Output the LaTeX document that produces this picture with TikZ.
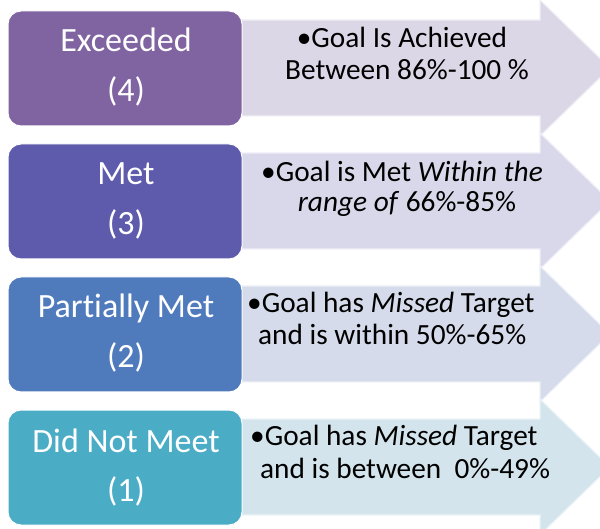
\documentclass[tikz,border=0pt]{standalone}
\usepackage{fontspec}
\setmainfont[Ligatures={NoCommon}]{Carlito}
\definecolor{boxA}{HTML}{8064A2}
\definecolor{boxB}{HTML}{5E5BAD}
\definecolor{boxC}{HTML}{4F7BBD}
\definecolor{boxD}{HTML}{4BACC6}
\definecolor{arrA}{HTML}{DCD7E7}
\definecolor{arrB}{HTML}{D9D8EA}
\definecolor{arrC}{HTML}{D5DBEA}
\definecolor{arrD}{HTML}{D3E4EC}
\begin{document}
\begin{tikzpicture}[x=1pt,y=-1pt,
  levelbox/.style={draw=white,line width=1pt,rounded corners=13pt,minimum width=234pt,minimum height=115pt,inner sep=0pt},
  arrowshape/.style={line width=1.2pt},
  boxtext/.style={text=white,font=\fontsize{34}{40}\selectfont,anchor=base,inner sep=0pt},
  arrtext/.style={text=black,font=\fontsize{29.3}{34}\selectfont,anchor=base,inner sep=0pt}]
\useasboundingbox (0,0) rectangle (600,529);
\clip (0,0) rectangle (600,529);
% arrows
\draw[arrowshape,fill=arrA,draw=arrA!40!white] (236,20) -- (540,20) -- (540,0) -- (610,68) -- (540,136) -- (540,116) -- (236,116) -- cycle;
\draw[arrowshape,fill=arrB,draw=arrB!40!white] (236,153) -- (540,153) -- (540,133) -- (610,201) -- (540,269) -- (540,249) -- (236,249) -- cycle;
\draw[arrowshape,fill=arrC,draw=arrC!40!white] (236,286) -- (540,286) -- (540,266) -- (610,334) -- (540,402) -- (540,382) -- (236,382) -- cycle;
\draw[arrowshape,fill=arrD,draw=arrD!40!white] (236,419) -- (540,419) -- (540,399) -- (610,467) -- (540,535) -- (540,515) -- (236,515) -- cycle;
% boxes
\node[levelbox,fill=boxA] (b4) at (125,68.5) {};
\node[levelbox,fill=boxB] (b3) at (125,201.5) {};
\node[levelbox,fill=boxC] (b2) at (125,334.5) {};
\node[levelbox,fill=boxD] (b1) at (125,467.5) {};
% box texts
\node[boxtext] (t4a) at (126,52) {Exceeded};
\node[boxtext] (t4b) at (126,102) {(4)};
\node[boxtext] (t3a) at (126,185) {Met};
\node[boxtext] (t3b) at (126,235) {(3)};
\node[boxtext] (t2a) at (126,318) {Partially Met};
\node[boxtext] (t2b) at (126,368) {(2)};
\node[boxtext] (t1a) at (126,452) {Did Not Meet};
\node[boxtext] (t1b) at (126,501) {(1)};
% arrow texts
\node[arrtext] (a4a) at (402,48) {•Goal Is Achieved};
\node[arrtext] (a4b) at (407,80) {Between 86\%-100 \%};
\node[arrtext] (a3a) at (402,182) {•Goal is Met \textit{Within the}};
\node[arrtext] (a3b) at (407,212) {\textit{range of} 66\%-85\%};
\node[arrtext,anchor=base west] (a2a) at (247,313) {•Goal has \textit{Missed} Target};
\node[arrtext,anchor=base west] (a2b) at (258,345) {and is within 50\%-65\%};
\node[arrtext,anchor=base west] (a1a) at (250,445) {•Goal has \textit{Missed} Target};
\node[arrtext,anchor=base west] (a1b) at (260,478) {and is between~~0\%-49\%};
\end{tikzpicture}
\end{document}
